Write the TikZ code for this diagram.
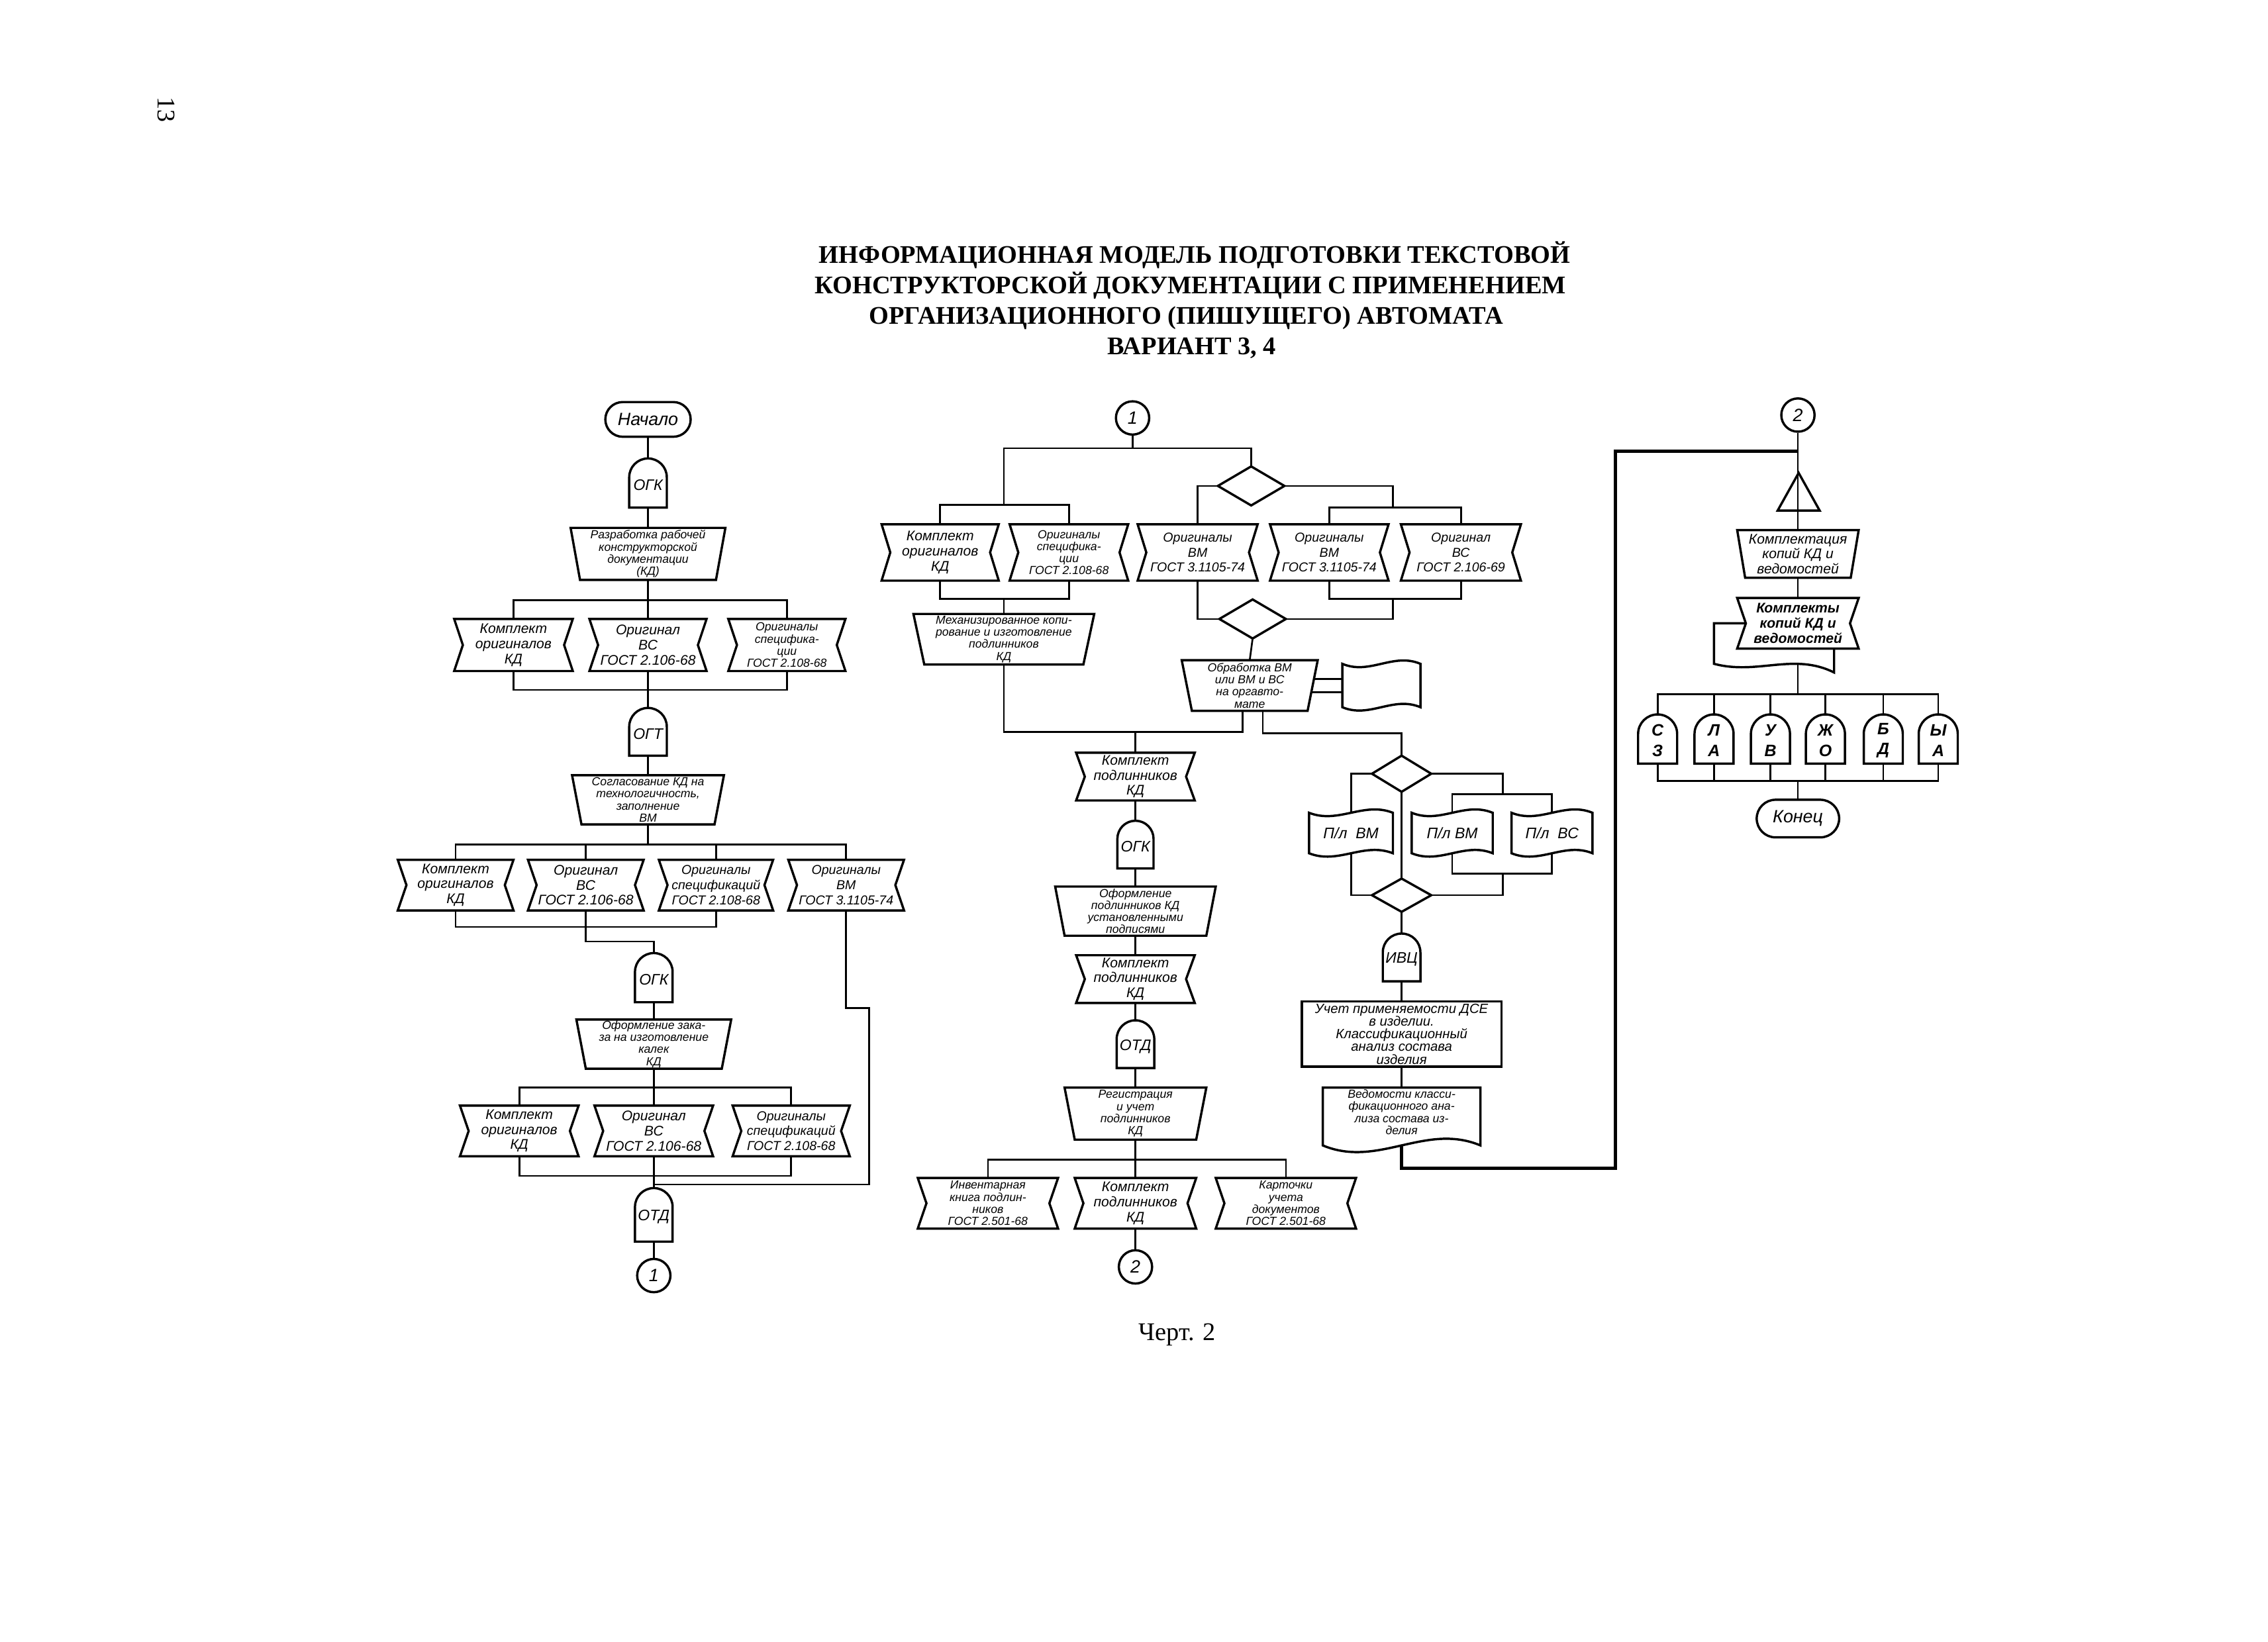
\documentclass[tikz,border=0pt]{standalone}
\usepackage{fontspec}
\setmainfont{Liberation Serif}
\newfontfamily\gost{Liberation Sans}
\usetikzlibrary{calc}
\tikzset{
 ln/.style={line width=0.7pt},
 thk/.style={line width=1.3pt},
 shp/.style={line width=0.9pt, line join=miter},
 anc/.style={inner sep=0pt, outer sep=0pt},
 txt/.style={inner sep=0pt, align=center, font=\gost\itshape\fontsize{4.6}{4.75}\selectfont},
 txtm/.style={inner sep=0pt, align=center, font=\gost\itshape\fontsize{5.1}{5.9}\selectfont},
 txtl/.style={inner sep=0pt, align=center, font=\gost\itshape\fontsize{5.5}{5.9}\selectfont},
 txtb/.style={inner sep=0pt, align=center, font=\gost\bfseries\itshape\fontsize{5.5}{5.9}\selectfont},
 btxt/.style={inner sep=0pt, align=center, font=\gost\itshape\fontsize{6}{6}\selectfont},
 ttl/.style={font=\bfseries\fontsize{10}{12}\selectfont, inner sep=0pt},
 circ/.style={draw, shp, circle, minimum size=4.6mm, inner sep=0pt, font=\gost\itshape\fontsize{7}{7}\selectfont},
 term/.style={draw, shp, inner sep=0pt, font=\gost\itshape\fontsize{7}{7}\selectfont},
}
% [text style], name, x, y, w, h, text
\newcommand\bowbox[7][txt]{%
 \node[anc,minimum width={#5*0.2mm},minimum height={#6*0.2mm}] (#2) at (#3,#4) {};
 \node[#1] (#2t) at (#2) {#7};
 \draw[shp] (#2.north west) -- (#2.north east) -- ([xshift=-1.2mm]#2.east) -- (#2.south east) -- (#2.south west) -- ([xshift=1.2mm]#2.west) -- cycle;}
% [taper], name, x, y, w, h, text
\newcommand\trapbox[7][1.3mm]{%
 \node[anc,minimum width={#5*0.2mm},minimum height={#6*0.2mm}] (#2) at (#3,#4) {};
 \node[txt] (#2t) at (#2) {#7};
 \draw[shp] (#2.north west) -- (#2.north east) -- ([xshift=-#1]#2.south east) -- ([xshift=#1]#2.south west) -- cycle;}
\newcommand\bulbox[6]{%
 \node[anc,minimum width={#4*0.2mm},minimum height={#5*0.2mm}] (#1) at (#2,#3) {};
 \node[btxt] (#1t) at ([yshift=-0.3mm]#1.center) {#6};
 \draw[shp] (#1.south west) -- ([yshift={-#4*0.1mm}]#1.north west) arc[start angle=180,end angle=0,radius={#4*0.1mm}] -- (#1.south east) -- cycle;}
\newcommand\tapebox[6]{%
 \node[anc,minimum width={#4*0.2mm},minimum height={#5*0.2mm}] (#1) at (#2,#3) {};
 \node[btxt] (#1t) at (#1) {#6};
 \draw[shp] (#1.north west) .. controls +({0.35*#4},8) and +({-0.35*#4},-8) .. (#1.north east) -- (#1.south east) .. controls +({-0.35*#4},-8) and +({0.35*#4},8) .. (#1.south west) -- cycle;}
\newcommand\docbox[6]{%
 \node[anc,minimum width={#4*0.2mm},minimum height={#5*0.2mm}] (#1) at (#2,#3) {};
 \node[txt] (#1t) at ([yshift=0.6mm]#1.center) {#6};
 \draw[shp] (#1.south west) -- (#1.north west) -- (#1.north east) -- (#1.south east) .. controls +({-0.35*#4},-16) and +({0.35*#4},16) .. (#1.south west) -- cycle;}
\newcommand\diabox[5]{%
 \node[anc,minimum width={#4*0.2mm},minimum height={#5*0.2mm}] (#1) at (#2,#3) {};
 \draw[shp] (#1.north) -- (#1.east) -- (#1.south) -- (#1.west) -- cycle;}

\begin{document}
\begin{tikzpicture}[x=0.2mm,y=-0.2mm]
\useasboundingbox (0,0) rectangle (1568,1135);
\fill[white] (0,0) rectangle (1568,1135);

% ---------- title and captions
\node[ttl,anchor=base] (tl1) at (826,182) {ИНФОРМАЦИОННАЯ МОДЕЛЬ ПОДГОТОВКИ ТЕКСТОВОЙ};
\node[ttl,anchor=base] (tl2) at (823,203) {КОНСТРУКТОРСКОЙ ДОКУМЕНТАЦИИ С ПРИМЕНЕНИЕМ};
\node[ttl,anchor=base] (tl3) at (820,224) {ОРГАНИЗАЦИОННОГО (ПИШУЩЕГО) АВТОМАТА};
\node[ttl,anchor=base] (tl4) at (824,245) {ВАРИАНТ 3, 4};
\node[font=\fontsize{10}{12}\selectfont,anchor=base,inner sep=0pt] (cap) at (814,927) {Черт. 2};
\node[font=\fontsize{10}{12}\selectfont,rotate=-90,inner sep=0pt] (pg) at (115,76) {13};

% ---------- left column
\node[term,rounded corners=2.4mm,minimum width=11.8mm,minimum height=4.8mm] (nach) at (448,290) {Начало};
\bulbox{ogk1}{448}{334}{26}{34}{ОГК}
\trapbox{razr}{448}{383}{107}{36}{Разработка рабочей\\конструкторской\\документации\\(КД)}
\bowbox[txtl]{k1a}{355}{446}{82}{36}{Комплект\\оригиналов\\КД}
\bowbox[txtl]{k1b}{448}{446}{81}{36}{Оригинал\\ВС\\ГОСТ 2.106-68}
\bowbox{k1c}{544}{446}{81}{36}{Оригиналы\\специфика-\\ции\\ГОСТ 2.108-68}
\bulbox{ogt}{448}{506}{26}{33}{ОГТ}
\trapbox{sogl}{448}{553}{105}{34}{Согласование КД на\\технологичность,\\заполнение\\ВМ}
\bowbox[txtl]{k2a}{315}{612}{80}{35}{Комплект\\оригиналов\\КД}
\bowbox[txtl]{k2b}{405}{612}{80}{35}{Оригинал\\ВС\\ГОСТ 2.106-68}
\bowbox[txtm]{k2c}{495}{612}{79}{35}{Оригиналы\\спецификаций\\ГОСТ 2.108-68}
\bowbox[txtm]{k2d}{585}{612}{80}{35}{Оригиналы\\ВМ\\ГОСТ 3.1105-74}
\bulbox{ogk2}{452}{676}{26}{34}{ОГК}
\trapbox{ofz}{452}{722}{107}{34}{Оформление зака-\\за на изготовление\\калек\\КД}
\bowbox[txtl]{k3a}{359}{782}{82}{35}{Комплект\\оригиналов\\КД}
\bowbox[txtl]{k3b}{452}{782}{82}{35}{Оригинал\\ВС\\ГОСТ 2.106-68}
\bowbox[txtm]{k3c}{547}{782}{81}{35}{Оригиналы\\спецификаций\\ГОСТ 2.108-68}
\bulbox{otd1}{452}{840}{26}{37}{ОТД}
\node[circ] (c1a) at (452,882) {1};

\draw[ln] (nach.south) -- (ogk1.north);
\draw[ln] (ogk1.south) -- (razr.north);
\coordinate (b1) at (448,415);
\draw[ln] (razr.south) -- (b1);
\draw[ln] (k1a.north) |- (b1) -| (k1c.north);
\draw[ln] (b1) -- (k1b.north);
\coordinate (b1c) at (448,477);
\draw[ln] (k1a.south) |- (b1c) -| (k1c.south);
\draw[ln] (k1b.south) -- (ogt.north);
\draw[ln] (ogt.south) -- (sogl.north);
\coordinate (b2) at (448,584);
\draw[ln] (sogl.south) -- (b2);
\draw[ln] (k2a.north) |- (b2) -| (k2d.north);
\draw[ln] (k2b.north) |- (b2);
\draw[ln] (k2c.north) |- (b2);
\coordinate (b2c) at (405,641);
\draw[ln] (k2a.south) |- (b2c) -| (k2c.south);
\coordinate (j1) at (405,651);
\draw[ln] (k2b.south) -- (j1) -| (ogk2.north);
\coordinate (r2) at (601,697);
\coordinate (r3) at (601,819);
\draw[ln] (k2d.south) |- (r2) -- (r3) -| (otd1.north);
\draw[ln] (ogk2.south) -- (ofz.north);
\coordinate (b3) at (452,752);
\draw[ln] (ofz.south) -- (b3);
\draw[ln] (k3a.north) |- (b3) -| (k3c.north);
\draw[ln] (b3) -- (k3b.north);
\coordinate (b3c) at (452,813);
\draw[ln] (k3a.south) |- (b3c) -| (k3c.south);
\draw[ln] (k3b.south) -- (otd1.north);
\draw[ln] (otd1.south) -- (c1a.north);

% ---------- middle column
\node[circ] (c1b) at (783,289) {1};
\bowbox[txtl]{m1a}{650}{382}{81}{39}{Комплект\\оригиналов\\КД}
\bowbox{m1b}{739}{382}{82}{39}{Оригиналы\\специфика-\\ции\\ГОСТ 2.108-68}
\trapbox[1.5mm]{mech}{694}{442}{125}{35}{Механизированное копи-\\рование и изготовление\\подлинников\\КД}
\diabox{d1}{865}{336}{46}{27}
\bowbox[txtm]{m1c}{828}{382}{83}{39}{Оригиналы\\ВМ\\ГОСТ 3.1105-74}
\bowbox[txtm]{m1d}{919}{382}{82}{39}{Оригиналы\\ВМ\\ГОСТ 3.1105-74}
\bowbox[txtm]{m1e}{1010}{382}{83}{39}{Оригинал\\ВС\\ГОСТ 2.106-69}
\diabox{d2}{866}{428}{46}{27}
\trapbox[1.4mm]{obr}{864}{474}{94}{35}{Обработка ВМ\\или ВМ и ВС\\на оргавто-\\мате}
\tapebox{tp1}{955}{474}{54}{30}{}
\bowbox[txtl]{m2}{785}{537}{82}{33}{Комплект\\подлинников\\КД}
\bulbox{ogk3}{785}{584}{25}{33}{ОГК}
\trapbox{ofp}{785}{630}{111}{34}{Оформление\\подлинников КД\\установленными\\подписями}
\bowbox[txtl]{m3}{785}{677}{82}{33}{Комплект\\подлинников\\КД}
\bulbox{otd2}{785}{722}{26}{33}{ОТД}
\trapbox[1.4mm]{reg}{785}{770}{98}{36}{Регистрация\\и учет\\подлинников\\КД}
\bowbox{m4a}{683}{832}{97}{35}{Инвентарная\\книга подлин-\\ников\\ГОСТ 2.501-68}
\bowbox[txtl]{m4b}{785}{832}{84}{35}{Комплект\\подлинников\\КД}
\bowbox{m4c}{889}{832}{97}{35}{Карточки\\учета\\документов\\ГОСТ 2.501-68}
\node[circ] (c2a) at (785,876) {2};

\coordinate (mb0) at (783,310);
\draw[ln] (c1b.south) -- (mb0);
\coordinate (mbL) at (694,349);
\draw[ln] (mb0) -| (mbL);
\draw[ln] (m1a.north) |- (mbL) -| (m1b.north);
\draw[ln] (mb0) -| (d1.north);
\coordinate (ml2) at (694,414);
\draw[ln] (m1a.south) |- (ml2) -| (m1b.south);
\draw[ln] (ml2) -- (mech.north);
\draw[ln] (d1.west) -| (m1c.north);
\coordinate (mr1) at (963,351);
\draw[ln] (d1.east) -| (mr1);
\draw[ln] (m1d.north) |- (mr1) -| (m1e.north);
\coordinate (mr2) at (963,414);
\draw[ln] (m1d.south) |- (mr2) -| (m1e.south);
\draw[ln] (mr2) |- (d2.east);
\draw[ln] (m1c.south) |- (d2.west);
\draw[ln] (d2.south) -- (obr.north);
\draw[ln] ([xshift=-0.52mm,yshift=0.9mm]obr.east) -- ([yshift=0.9mm]tp1.west);
\draw[ln] ([xshift=-0.88mm,yshift=-0.9mm]obr.east) -- ([yshift=-0.9mm]tp1.west);
\coordinate (oL) at (859,506);
\coordinate (oR) at (873,507);
\coordinate (mbus) at (785,506);
\draw[ln] (mech.south) |- (oL) -- (oL |- obr.south);
\draw[ln] (mbus) -- (m2.north);
\draw[ln] (m2.south) -- (ogk3.north);
\draw[ln] (ogk3.south) -- (ofp.north);
\draw[ln] (ofp.south) -- (m3.north);
\draw[ln] (m3.south) -- (otd2.north);
\draw[ln] (otd2.south) -- (reg.north);
\coordinate (mb4) at (785,802);
\draw[ln] (reg.south) -- (mb4);
\draw[ln] (m4a.north) |- (mb4) -| (m4c.north);
\draw[ln] (mb4) -- (m4b.north);
\draw[ln] (m4b.south) -- (c2a.north);

% ---------- punched tape branch
\diabox{d3}{969}{535}{41}{25}
\tapebox{pl1}{934}{576}{58}{28}{П/л\ \ ВМ}
\tapebox{pl2}{1004}{576}{56}{28}{П/л ВМ}
\tapebox{pl3}{1073}{576}{56}{28}{П/л\ \ ВС}
\diabox{d4}{969}{619}{41}{23}
\bulbox{ivc}{969}{662}{26}{33}{ИВЦ}
\node[draw,shp,minimum width=27.6mm,minimum height=9mm,inner sep=0pt] (uch) at (969,715) {};
\node[txt,font=\gost\itshape\fontsize{5.3}{5.0}\selectfont] (ucht) at (uch) {Учет применяемости ДСЕ\\в изделии.\\Классификационный\\анализ состава\\изделия};
\docbox{ved}{969}{772}{109}{40}{Ведомости класси-\\фикационного ана-\\лиза состава из-\\делия}

\draw[ln] (oR |- obr.south) -- (oR) -| (d3.north);
\draw[ln] (d3.west) -| (pl1.north);
\coordinate (pr1) at (1039,549);
\draw[ln] (d3.east) -| (pr1);
\draw[ln] (pl2.north) |- (pr1) -| (pl3.north);
\coordinate (pr2) at (1039,604);
\draw[ln] (pl2.south) |- (pr2) -| (pl3.south);
\draw[ln] (pr2) |- (d4.east);
\draw[ln] (pl1.south) |- (d4.west);
\draw[ln] (d3.south) -- (d4.north);
\draw[ln] (d4.south) -- (ivc.north);
\draw[ln] (ivc.south) -- (uch.north);
\draw[ln] (uch.south) -- (ved.north);

% ---------- right column
\node[circ] (c2b) at (1243,287) {2};
\node[anc,minimum width=5.8mm,minimum height=5.2mm] (tri) at (1243.5,340) {};
\draw[shp] (tri.north) -- (tri.south east) -- (tri.south west) -- cycle;
\node[anc,minimum width=16.8mm,minimum height=6.6mm] (kmpl) at (1243,383) {};
\node[txtl] (kmplt) at (kmpl) {Комплектация\\копий КД и\\ведомостей};
\draw[shp] (kmpl.north west) -- (kmpl.north east) -- ([xshift=-1.1mm]kmpl.south east) -- ([xshift=1.1mm]kmpl.south west) -- cycle;
\draw[shp] (1207,431) -- (1185,431) -- (1185,459) .. controls (1215,467) and (1240,451) .. (1268,465) -- (1268,448.5);
\bowbox[txtb]{kk}{1243}{431}{84}{35}{Комплекты\\копий КД и\\ведомостей}
\foreach \n/\xx/\ta/\tb in {s1/1146/С/З, s2/1185/Л/А, s3/1224/У/В, s4/1262/Ж/О, s5/1302/Б/Д, s6/1340/Ы/А}{
  \node[anc,minimum width=5.4mm,minimum height=6.8mm] (\n) at (\xx,511) {};
  \node[inner sep=0pt,align=center,font=\gost\bfseries\itshape\fontsize{6.5}{8}\selectfont] (\n t) at ([yshift=-0.2mm]\n.center) {\ta\\\tb};
  \draw[shp] (\n.south west) -- ([yshift=-2.7mm]\n.north west) arc[start angle=180,end angle=0,radius=2.7mm] -- (\n.south east) -- cycle;
}
\node[term,rounded corners=2.6mm,minimum width=11.4mm,minimum height=5.2mm] (kon) at (1243,566) {Конец};

\coordinate (t2) at (1117,808);
\coordinate (t3) at (1117,312);
\coordinate (t4) at (1243,312);
\draw[thk] (ved.south) |- (t2) -- (t3) -- (t4);
\draw[ln] (c2b.south) -- (kmpl.north);
\draw[ln] (kmpl.south) -- (kk.north);
\coordinate (kkd) at (1243,458.7);
\coordinate (rb) at (1243,480);
\draw[ln] (kkd) -- (rb);
\draw[ln] (s1.north) |- (rb) -| (s6.north);
\foreach \n in {s2,s3,s4,s5}{\draw[ln] (\n.north) |- (rb);}
\coordinate (rb2) at (1243,540);
\draw[ln] (s1.south) |- (rb2) -| (s6.south);
\foreach \n in {s2,s3,s4,s5}{\draw[ln] (\n.south) |- (rb2);}
\draw[ln] (rb2) -- (kon.north);
\end{tikzpicture}
\end{document}
